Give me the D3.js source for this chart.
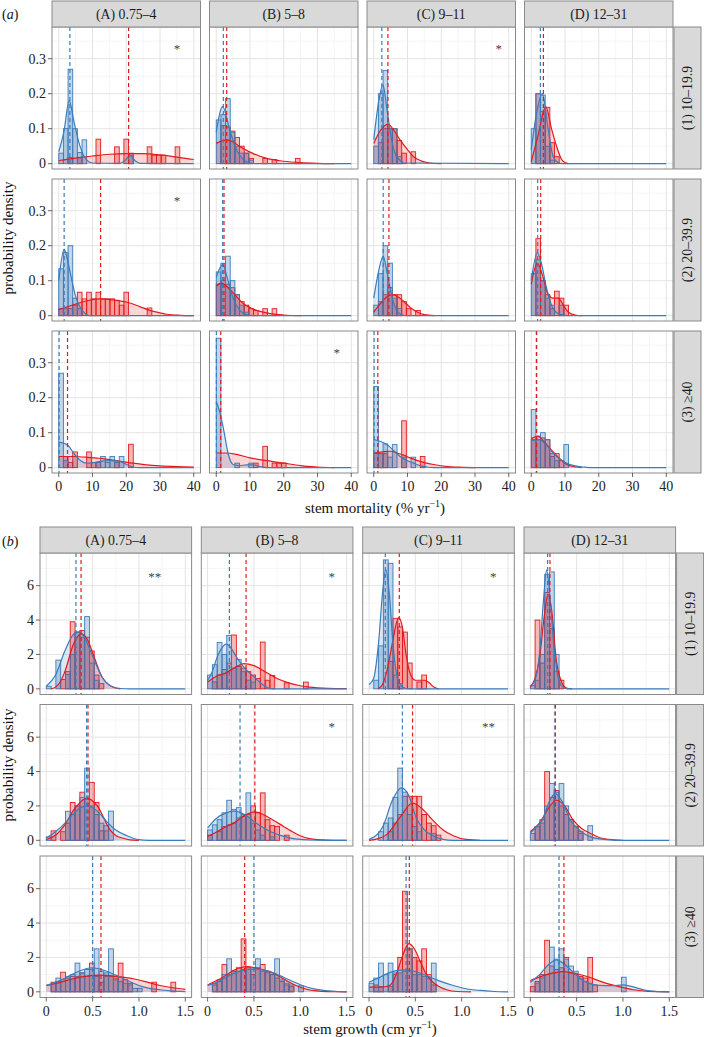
<!DOCTYPE html>
<html><head><meta charset="utf-8">
<script src="https://cdn.jsdelivr.net/npm/d3@7"></script>
<style>body{margin:0;background:#fff} text{font-family:"Liberation Serif","Times New Roman",serif}</style>
</head><body><svg id="c" width="704" height="1037"></svg>
<script>
// ---------------- DATA ----------------
const colLabels = ["(A) 0.75–4", "(B) 5–8", "(C) 9–11", "(D) 12–31"];
const rowLabels = ["(1) 10–19.9", "(2) 20–39.9", "(3) ≥40"];
const mortXTicks = [0, 10, 20, 30, 40];
const mortYTicks = [0, 0.1, 0.2, 0.3];
const growXTicks = [0, 0.5, 1.0, 1.5];
const growYTicks = [0, 2, 4, 6];
const mortBinWidth = 40 / 29;
const growBinWidth = 1.5 / 29;

// facets in row-major order: A1,B1,C1,D1, A2,B2,C2,D2, A3,B3,C3,D3 ; bins as [binIndex, density]
const mortHistBlue = [
  [[0,0.03],[1,0.1],[2,0.27],[3,0.1],[4,0.032],[5,0.068],[15,0.024]],
  [[0,0.125],[1,0.14],[2,0.186],[3,0.09],[4,0.05],[5,0.03],[6,0.03],[7,0.01]],
  [[0,0.05],[1,0.2],[2,0.266],[3,0.1],[4,0.1],[5,0.02]],
  [[0,0.1],[1,0.2],[2,0.196],[3,0.05],[4,0.01]],
  [[0,0.134],[1,0.18],[2,0.2],[3,0.05],[4,0.02]],
  [[0,0.125],[1,0.15],[2,0.17],[3,0.1],[4,0.06],[5,0.03],[6,0.01]],
  [[0,0.03],[1,0.12],[2,0.2],[3,0.15],[4,0.05],[5,0.02]],
  [[0,0.12],[1,0.16],[2,0.1],[3,0.05],[4,0.03],[6,0.03]],
  [[0,0.27],[1,0.02],[8,0.015],[9,0.032],[10,0.015],[11,0.032],[12,0.015],[13,0.032]],
  [[0,0.37],[4,0.013],[7,0.013]],
  [[0,0.232],[1,0.04],[2,0.068],[3,0.03],[4,0.066],[6,0.03],[8,0.03]],
  [[0,0.166],[1,0.09],[2,0.1],[3,0.08],[4,0.04],[5,0.02],[7,0.066]]
];
const mortHistRed = [
  [[2,0.018],[4,0.018],[8,0.07],[12,0.048],[14,0.07],[15,0.03],[19,0.048],[20,0.024],[21,0.024],[22,0.024],[25,0.048]],
  [[1,0.109],[2,0.105],[3,0.093],[4,0.075],[5,0.05],[6,0.03],[7,0.015],[10,0.015],[12,0.012],[17,0.015]],
  [[1,0.06],[2,0.1],[3,0.1],[4,0.1],[5,0.066],[6,0.03],[8,0.034]],
  [[1,0.2],[2,0.15],[3,0.161],[4,0.06],[5,0.02]],
  [[0,0.02],[1,0.02],[2,0.02],[3,0.03],[4,0.067],[5,0.048],[6,0.067],[7,0.048],[8,0.067],[9,0.048],[10,0.048],[11,0.048],[12,0.044],[13,0.03],[14,0.067],[19,0.022]],
  [[0,0.09],[1,0.1],[2,0.09],[3,0.08],[4,0.06],[5,0.04],[6,0.03],[7,0.02],[8,0.015],[10,0.02],[12,0.02]],
  [[1,0.04],[2,0.06],[3,0.08],[4,0.06],[5,0.06],[6,0.04],[7,0.02],[9,0.015]],
  [[1,0.22],[2,0.1],[3,0.06],[4,0.02],[5,0.07],[6,0.05],[7,0.03]],
  [[1,0.032],[2,0.015],[3,0.045],[6,0.045],[7,0.015],[8,0.015],[12,0.015],[15,0.067]],
  [[8,0.013],[10,0.061],[12,0.013],[13,0.013],[14,0.013]],
  [[0,0.04],[1,0.04],[2,0.04],[6,0.134],[10,0.032]],
  [[0,0.08],[1,0.08],[2,0.085],[3,0.08],[4,0.032],[5,0.04],[6,0.02]]
];
const mortDensBlue = [
  [[0,0.034],[1.5,0.09],[3.1,0.18],[4.5,0.12],[6.3,0.05],[8.3,0.01],[10,0.002],[18,0.001],[19.5,0.008],[21.1,0.024],[22.7,0.008],[24,0.001],[40,0]],
  [[0,0.09],[1.9,0.163],[4,0.096],[6,0.04],[8,0.012],[10,0.002],[12,0],[40,0]],
  [[0,0.068],[1.5,0.18],[2.7,0.225],[4,0.15],[5.3,0.068],[6.5,0.025],[7.8,0.01],[9,0.002],[40,0]],
  [[0,0.04],[1.5,0.14],[3.3,0.2],[5,0.1],[6.5,0.02],[8,0.003],[9,0],[40,0]],
  [[0,0.1],[1.6,0.19],[2.8,0.15],[3.9,0.1],[5,0.055],[6.3,0.025],[8,0.005],[9,0],[40,0]],
  [[0,0.11],[1.9,0.146],[3.5,0.1],[5,0.05],[7,0.015],[9,0.003],[11,0],[40,0]],
  [[0,0.05],[1.5,0.13],[2.8,0.17],[4,0.12],[5.5,0.05],[7,0.012],[8.5,0.002],[10,0],[40,0]],
  [[0,0.1],[1.8,0.18],[3,0.15],[4.5,0.08],[6,0.03],[8,0.006],[10,0.001],[12,0],[40,0]],
  [[0,0.073],[2.4,0.066],[4.8,0.037],[6.5,0.02],[8.3,0.013],[10,0.014],[12.2,0.018],[15,0.02],[18,0.018],[20,0.01],[22,0.002],[24,0],[40,0]],
  [[0,0.19],[1,0.16],[2.1,0.113],[3.6,0.037],[5,0.009],[7,0.006],[9,0.008],[11,0.008],[13,0.003],[15,0],[40,0]],
  [[0,0.08],[2,0.075],[3.9,0.066],[6,0.048],[7.8,0.032],[10,0.02],[11.8,0.013],[14,0.005],[15.7,0.002],[18,0],[40,0]],
  [[0,0.077],[2.5,0.08],[4.5,0.064],[6.5,0.042],[8.5,0.025],[10.4,0.013],[13,0.005],[15.4,0.002],[18,0],[40,0]]
];
const mortDensRed = [
  [[0,0.009],[5,0.016],[10,0.022],[15,0.027],[20,0.029],[25,0.029],[30,0.025],[35,0.019],[40,0.012]],
  [[0,0.058],[3,0.068],[5,0.062],[7,0.049],[10,0.033],[15,0.015],[20,0.007],[25,0.003],[30,0.001],[35,0]],
  [[0,0.058],[2,0.095],[4.2,0.113],[6,0.095],[7.8,0.068],[10,0.04],[11.8,0.02],[14,0.008],[16.7,0.002],[20,0]],
  [[0,0.006],[2,0.08],[4.3,0.163],[6,0.1],[7.5,0.05],[9,0.012],[10,0.003],[11,0]],
  [[0,0.017],[5.3,0.034],[9,0.044],[12.2,0.048],[16,0.045],[20,0.039],[24,0.026],[27,0.015],[30,0.008],[32,0.004],[36,0.001],[40,0]],
  [[0,0.085],[1.5,0.093],[3,0.085],[5,0.065],[8,0.035],[12,0.015],[16,0.006],[20,0.002],[25,0]],
  [[0,0.01],[2,0.035],[4,0.055],[5.5,0.06],[7,0.055],[9,0.04],[11,0.022],[13,0.01],[15,0.003],[18,0]],
  [[0,0.09],[1.8,0.15],[3.5,0.11],[5,0.06],[6.5,0.05],[8,0.05],[9.5,0.03],[11,0.01],[13,0.002],[15,0]],
  [[0,0.032],[4,0.032],[8,0.03],[12,0.027],[15,0.023],[18,0.019],[22,0.013],[26,0.008],[30,0.005],[35,0.003],[40,0.002]],
  [[0,0.042],[3,0.042],[6,0.038],[10,0.028],[15,0.02],[20,0.013],[25,0.006],[27,0.004],[30,0.002],[35,0]],
  [[0,0.042],[2.5,0.045],[4.9,0.047],[7,0.042],[9.8,0.032],[13,0.02],[17.7,0.009],[22,0.003],[26.6,0.001],[30,0]],
  [[0,0.083],[2,0.09],[4,0.072],[6.5,0.045],[8.5,0.025],[10.4,0.01],[12,0.004],[13.4,0.002],[15,0]]
];
const mortMeanBlue = [3.3, 2.1, 2.4, 2.7, 1.6, 1.9, 2.8, 1.9, 0.1, 0.05, 0.1, 1.5];
const mortMeanRed  = [20.7, 3.1, 4.2, 3.6, 12.4, 2.3, 4.5, 2.8, 2.6, 1.33, 1.2, 1.6];
const mortStars = [
  {facet: 0, label: "*", x: 35, y: 0.335},
  {facet: 2, label: "*", x: 37, y: 0.335},
  {facet: 4, label: "*", x: 35, y: 0.335},
  {facet: 9, label: "*", x: 35.7, y: 0.335}
];

const growHistBlue = [
  [[0,0.15],[2,1.67],[4,0.83],[5,2.0],[6,3.3],[7,3.0],[8,4.2],[9,1.5],[10,0.5]],
  [[0,0.8],[1,1.4],[2,2.7],[3,2.0],[4,3.1],[5,1.2],[6,1.7],[7,1.0],[8,0.5],[9,0.39]],
  [[1,0.5],[2,2.5],[3,7.5],[4,7.3],[5,0.8],[6,0.3]],
  [[0,0.2],[1,0.5],[2,2.0],[3,6.66],[4,6.8],[5,2.0]],
  [[0,0.2],[4,1.69],[5,1.5],[6,2.0],[7,2.5],[8,4.2],[9,2.0],[10,1.5],[11,1.0],[12,0.85],[13,1.7]],
  [[0,0.6],[1,0.9],[2,1.2],[3,1.6],[4,2.33],[5,1.8],[6,1.9],[7,1.5],[8,2.76],[9,1.0],[10,0.6],[11,0.3],[13,0.2]],
  [[2,0.5],[3,1.0],[4,1.3],[5,2.5],[6,4.2],[7,2.8],[8,1.5],[9,0.8],[10,0.5],[13,0.4]],
  [[0,0.4],[1,0.8],[2,1.0],[3,2.0],[4,3.3],[5,2.8],[6,3.3],[7,2.0],[8,1.2],[9,0.8],[10,0.4],[12,0.85]],
  [[1,0.5],[2,0.8],[3,0.7],[4,0.9],[5,1.0],[6,1.67],[7,1.1],[8,1.3],[9,1.3],[10,2.5],[11,1.2],[12,1.1],[13,2.5],[14,0.7],[15,0.6],[16,0.5],[17,0.4],[18,0.2],[19,0.2]],
  [[1,0.5],[2,0.7],[3,1.0],[4,1.92],[5,1.2],[6,1.2],[7,1.3],[8,1.3],[9,1.3],[10,1.92],[11,1.2],[12,1.1],[13,1.0],[14,1.92],[15,0.7],[16,0.5],[17,0.4],[19,0.35]],
  [[0,0.5],[1,0.8],[2,1.67],[3,1.0],[4,1.67],[5,1.1],[6,1.1],[7,1.2],[8,2.5],[9,1.0],[10,1.0],[11,0.9],[12,0.8],[13,1.67]],
  [[1,0.5],[2,0.8],[3,1.0],[4,2.6],[5,1.9],[6,2.5],[7,1.9],[8,1.5],[9,1.2],[10,0.8],[11,0.6],[12,0.5],[19,0.85]]
];
const growHistRed = [
  [[3,0.54],[4,1.0],[5,3.9],[6,3.3],[7,3.4],[8,3.0],[9,2.2],[10,0.8],[11,0.3]],
  [[1,0.4],[2,0.8],[3,1.12],[4,1.5],[5,3.13],[6,1.3],[7,1.2],[8,1.0],[9,0.8],[10,0.6],[11,2.72],[12,0.5],[13,0.78],[16,0.35],[20,0.39]],
  [[4,1.6],[5,4.1],[6,3.6],[7,3.3],[8,1.5],[10,0.4],[11,0.8]],
  [[1,4.0],[2,1.5],[3,5.6],[4,3.5],[5,1.03],[6,0.5]],
  [[1,0.55],[3,0.5],[4,1.0],[5,2.2],[6,2.0],[7,2.8],[8,2.4],[9,3.37],[10,2.2],[11,0.55],[12,0.55]],
  [[0,0.3],[2,0.5],[3,0.8],[4,0.9],[5,1.0],[6,1.3],[7,1.4],[8,1.5],[9,2.0],[10,1.6],[11,2.76],[12,1.2],[13,0.85],[14,0.81],[16,0.3]],
  [[4,0.5],[5,1.0],[6,1.5],[7,2.56],[8,2.56],[9,2.56],[10,2.56],[11,1.5],[12,1.0],[13,0.85],[14,0.3]],
  [[1,0.8],[2,1.2],[3,4.0],[4,2.5],[5,2.9],[6,2.0],[7,1.5],[8,1.2],[9,0.8],[10,0.5]],
  [[1,0.56],[2,0.6],[3,1.14],[4,0.8],[5,0.9],[6,0.9],[7,1.1],[8,0.9],[9,1.67],[10,0.9],[11,0.56],[12,0.9],[13,0.9],[14,0.8],[15,1.67],[16,0.7],[17,0.5],[22,0.56],[26,0.56]],
  [[1,0.4],[2,0.6],[3,1.59],[4,1.0],[5,1.2],[6,1.4],[7,3.08],[8,1.4],[9,1.0],[10,1.4],[11,1.59],[12,1.2],[13,1.0],[14,0.8],[15,0.6],[16,0.4],[17,0.3]],
  [[1,0.4],[2,0.3],[4,0.3],[5,1.0],[6,2.0],[7,5.85],[8,2.5],[9,2.0],[10,1.8],[11,2.5],[12,1.0],[13,0.4]],
  [[0,0.3],[1,0.6],[2,1.0],[3,3.0],[4,1.5],[5,1.3],[6,1.4],[7,2.0],[8,1.1],[9,1.0],[10,0.9],[11,0.8],[12,2.0],[13,0.4]]
];
const growDensBlue = [
  [[0,0.15],[0.1,0.8],[0.2,2.2],[0.3,3.2],[0.35,3.3],[0.4,3.1],[0.5,1.9],[0.6,0.7],[0.7,0.15],[0.8,0.02],[0.9,0],[1.5,0]],
  [[0,0.5],[0.05,1.0],[0.1,1.8],[0.15,2.35],[0.2,2.6],[0.25,2.4],[0.3,1.95],[0.4,1.2],[0.5,0.7],[0.6,0.22],[0.65,0.06],[0.7,0],[1.5,0]],
  [[0,0.25],[0.05,0.6],[0.1,2.5],[0.15,5.8],[0.18,6.95],[0.22,5.5],[0.26,2.5],[0.3,0.8],[0.35,0.15],[0.4,0.02],[0.45,0],[1.5,0]],
  [[0,0.15],[0.05,0.5],[0.1,2.1],[0.14,5.0],[0.176,6.9],[0.21,5.5],[0.25,2.8],[0.3,0.7],[0.35,0.1],[0.4,0],[1.5,0]],
  [[0,0.14],[0.1,0.5],[0.22,1.1],[0.3,1.6],[0.43,2.0],[0.55,1.7],[0.65,1.1],[0.75,0.6],[0.87,0.27],[1.0,0.04],[1.1,0],[1.5,0]],
  [[0,0.72],[0.1,1.3],[0.2,1.6],[0.28,1.7],[0.4,1.5],[0.5,1.1],[0.64,0.62],[0.75,0.35],[0.85,0.19],[1.0,0.05],[1.1,0.02],[1.3,0],[1.5,0]],
  [[0,0.04],[0.1,0.4],[0.15,0.8],[0.25,2.3],[0.35,3.05],[0.43,2.6],[0.51,1.3],[0.6,0.6],[0.69,0.27],[0.8,0.06],[0.9,0],[1.5,0]],
  [[0,0.43],[0.07,0.8],[0.14,1.3],[0.2,2.2],[0.27,2.72],[0.35,2.2],[0.43,1.2],[0.5,0.75],[0.57,0.43],[0.65,0.2],[0.75,0.08],[0.9,0.01],[1.0,0],[1.5,0]],
  [[0,0.37],[0.1,0.55],[0.22,0.85],[0.35,1.2],[0.5,1.4],[0.65,1.2],[0.8,0.85],[0.9,0.6],[1.0,0.37],[1.1,0.22],[1.23,0.12],[1.35,0.05],[1.5,0.01]],
  [[0,0.37],[0.1,0.55],[0.2,0.85],[0.35,1.2],[0.5,1.34],[0.65,1.2],[0.82,0.85],[0.92,0.6],[1.03,0.35],[1.15,0.17],[1.25,0.08],[1.4,0.02],[1.5,0]],
  [[0,0.56],[0.1,0.8],[0.19,1.05],[0.28,1.22],[0.37,1.28],[0.5,1.18],[0.62,0.95],[0.75,0.65],[0.91,0.37],[1.05,0.18],[1.2,0.08],[1.35,0.02],[1.5,0]],
  [[0,0.56],[0.1,1.0],[0.2,1.6],[0.28,1.86],[0.37,1.6],[0.47,1.1],[0.57,0.66],[0.66,0.45],[0.75,0.37],[0.88,0.36],[1.0,0.4],[1.1,0.3],[1.22,0.12],[1.35,0.03],[1.5,0]]
];
const growDensRed = [
  [[0.05,0],[0.1,0.1],[0.15,0.4],[0.2,1.0],[0.3,2.7],[0.38,3.2],[0.45,2.8],[0.5,2.1],[0.6,0.7],[0.7,0.15],[0.75,0.05],[0.8,0]],
  [[0,0.39],[0.1,0.75],[0.2,0.93],[0.3,1.25],[0.39,1.47],[0.5,1.35],[0.64,0.93],[0.75,0.6],[0.85,0.39],[1.0,0.18],[1.1,0.1],[1.3,0.03],[1.5,0.01]],
  [[0.1,0],[0.15,0.3],[0.2,1.2],[0.25,2.6],[0.3,3.9],[0.32,4.14],[0.36,3.6],[0.4,2.0],[0.45,0.8],[0.5,0.5],[0.55,0.5],[0.6,0.5],[0.65,0.35],[0.7,0.1],[0.75,0]],
  [[0,0.1],[0.05,0.6],[0.1,1.8],[0.15,4.2],[0.19,5.5],[0.23,4.6],[0.28,1.7],[0.33,0.5],[0.39,0.05],[0.45,0]],
  [[0,0.05],[0.1,0.3],[0.2,0.9],[0.3,1.8],[0.44,2.46],[0.55,2.0],[0.69,0.6],[0.75,0.28],[0.83,0.12],[0.9,0.03],[1.0,0]],
  [[0,0.23],[0.1,0.5],[0.2,0.8],[0.28,1.0],[0.4,1.45],[0.51,1.65],[0.6,1.5],[0.7,1.2],[0.82,0.81],[0.9,0.55],[1.0,0.27],[1.1,0.1],[1.18,0.04],[1.3,0.01],[1.5,0]],
  [[0,0],[0.1,0.1],[0.19,0.33],[0.33,1.3],[0.47,2.17],[0.6,1.7],[0.69,1.16],[0.8,0.6],[0.91,0.27],[1.05,0.05],[1.2,0]],
  [[0,0.52],[0.1,1.0],[0.2,1.9],[0.28,2.33],[0.37,2.0],[0.46,1.2],[0.55,0.7],[0.64,0.43],[0.75,0.15],[0.9,0.03],[1.0,0]],
  [[0,0.37],[0.15,0.55],[0.29,0.76],[0.45,0.93],[0.58,0.97],[0.75,0.9],[0.94,0.76],[1.1,0.55],[1.23,0.37],[1.35,0.25],[1.5,0.14]],
  [[0,0.4],[0.15,0.8],[0.3,1.3],[0.42,1.47],[0.55,1.35],[0.71,1.08],[0.85,0.65],[0.96,0.35],[1.07,0.15],[1.18,0.05],[1.3,0.01],[1.5,0]],
  [[0,0.27],[0.12,0.27],[0.23,0.4],[0.3,1.1],[0.35,1.9],[0.43,2.8],[0.5,2.4],[0.55,1.8],[0.62,1.0],[0.69,0.56],[0.76,0.3],[0.84,0.12],[0.95,0.02],[1.1,0]],
  [[0,0.66],[0.12,0.9],[0.25,1.1],[0.36,1.18],[0.5,1.05],[0.64,0.85],[0.75,0.62],[0.86,0.43],[1.0,0.25],[1.11,0.12],[1.25,0.04],[1.4,0.01],[1.5,0]]
];
const growMeanBlue = [0.32, 0.235, 0.176, 0.187, 0.435, 0.35, 0.36, 0.266, 0.5, 0.5, 0.4, 0.31];
const growMeanRed  = [0.375, 0.415, 0.327, 0.212, 0.45, 0.51, 0.47, 0.27, 0.59, 0.4, 0.435, 0.363];
const growStars = [
  {facet: 0, label: "**", x: 1.17, y: 6.65},
  {facet: 1, label: "*", x: 1.34, y: 6.65},
  {facet: 2, label: "*", x: 1.34, y: 6.65},
  {facet: 5, label: "*", x: 1.34, y: 6.75},
  {facet: 6, label: "**", x: 1.29, y: 6.75}
];

// ---------------- DRAWING ----------------
const BLUE = "#3B7CBA", RED = "#E31A1C";
const svg = d3.select("#c");

function drawFigure(cfg) {
  const g = svg.append("g");
  const nC = 4, nR = 3;
  for (let r = 0; r < nR; r++) {
    for (let c = 0; c < nC; c++) {
      const f = r * nC + c;
      const x0 = cfg.colLefts[c], y0 = cfg.rowTops[r];
      const W = cfg.colW, H = cfg.rowH;
      const x = d3.scaleLinear().domain(cfg.xDomain).range([x0, x0 + W]);
      const y = d3.scaleLinear().domain(cfg.yDomain).range([y0 + H, y0]);
      const p = g.append("g");
      const clipId = cfg.id + "clip" + f;
      p.append("clipPath").attr("id", clipId).append("rect")
        .attr("x", x0).attr("y", y0).attr("width", W).attr("height", H);
      p.append("rect").attr("x", x0).attr("y", y0).attr("width", W).attr("height", H).attr("fill", "#fff");
      const inner = p.append("g").attr("clip-path", `url(#${clipId})`);
      // grid
      inner.selectAll(".gxm").data(cfg.xMinor).join("line")
        .attr("x1", d => x(d)).attr("x2", d => x(d)).attr("y1", y0).attr("y2", y0 + H)
        .attr("stroke", "#F0F0F0").attr("stroke-width", 0.6);
      inner.selectAll(".gym").data(cfg.yMinor).join("line")
        .attr("y1", d => y(d)).attr("y2", d => y(d)).attr("x1", x0).attr("x2", x0 + W)
        .attr("stroke", "#F0F0F0").attr("stroke-width", 0.6);
      inner.selectAll(".gx").data(cfg.xTicks).join("line")
        .attr("x1", d => x(d)).attr("x2", d => x(d)).attr("y1", y0).attr("y2", y0 + H)
        .attr("stroke", "#E4E4E4").attr("stroke-width", 1);
      inner.selectAll(".gy").data(cfg.yTicks).join("line")
        .attr("y1", d => y(d)).attr("y2", d => y(d)).attr("x1", x0).attr("x2", x0 + W)
        .attr("stroke", "#E4E4E4").attr("stroke-width", 1);
      // histograms
      const series = [
        {hist: cfg.histRed[f], dens: cfg.densRed[f], col: RED},
        {hist: cfg.histBlue[f], dens: cfg.densBlue[f], col: BLUE}
      ];
      series.forEach(s => {
        inner.append("g").selectAll("rect").data(s.hist).join("rect")
          .attr("x", d => x(d[0] * cfg.binW))
          .attr("width", d => x((d[0] + 1) * cfg.binW) - x(d[0] * cfg.binW))
          .attr("y", d => y(d[1]))
          .attr("height", d => y(0) - y(d[1]))
          .attr("fill", s.col).attr("fill-opacity", 0.3)
          .attr("stroke", s.col).attr("stroke-width", 0.9);
      });
      series.forEach(s => {
        const area = d3.area().x(d => x(d[0])).y0(y(0)).y1(d => y(d[1])).curve(d3.curveMonotoneX);
        inner.append("path").datum(s.dens).attr("d", area)
          .attr("fill", s.col).attr("fill-opacity", 0.18);
      });
      series.forEach(s => {
        const line = d3.line().x(d => x(d[0])).y(d => y(d[1])).curve(d3.curveMonotoneX);
        inner.append("path").datum(s.dens).attr("d", line)
          .attr("fill", "none").attr("stroke", s.col).attr("stroke-width", 1.2);
      });
      // mean lines
      [[cfg.meanBlue[f], BLUE], [cfg.meanRed[f], RED]].forEach(([m, col]) => {
        inner.append("line").attr("x1", x(m)).attr("x2", x(m)).attr("y1", y0).attr("y2", y0 + H)
          .attr("stroke", col).attr("stroke-width", 1.2).attr("stroke-dasharray", "4,3");
      });
      // stars
      cfg.stars.filter(s => s.facet === f).forEach(s => {
        p.append("text").attr("x", x(s.x)).attr("y", y(s.y) + 7)
          .attr("text-anchor", "middle").attr("font-size", 13).attr("fill", "#444").text(s.label);
      });
      // border
      p.append("rect").attr("x", x0).attr("y", y0).attr("width", W).attr("height", H)
        .attr("fill", "none").attr("stroke", "#8A8A8A").attr("stroke-width", 1);
      // y axis (first column)
      if (c === 0) {
        cfg.yTicks.forEach(t => {
          p.append("line").attr("x1", x0 - 4).attr("x2", x0).attr("y1", y(t)).attr("y2", y(t))
            .attr("stroke", "#444").attr("stroke-width", 0.8);
          p.append("text").attr("x", x0 - 6).attr("y", y(t) + 4.8).attr("text-anchor", "end")
            .attr("font-size", 14).attr("fill", "#222").text(cfg.yFmt(t));
        });
      }
      // x axis (last row)
      if (r === nR - 1) {
        cfg.xTicks.forEach(t => {
          p.append("line").attr("x1", x(t)).attr("x2", x(t)).attr("y1", y0 + H).attr("y2", y0 + H + 4)
            .attr("stroke", "#444").attr("stroke-width", 0.8);
          p.append("text").attr("x", x(t)).attr("y", y0 + H + 18).attr("text-anchor", "middle")
            .attr("font-size", 14).attr("fill", "#222").text(cfg.xFmt(t));
        });
      }
    }
  }
  // top strips
  colLabels.forEach((lab, c) => {
    g.append("rect").attr("x", cfg.colLefts[c]).attr("y", cfg.stripTop).attr("width", cfg.colW)
      .attr("height", cfg.rowTops[0] - cfg.stripTop)
      .attr("fill", "#D9D9D9").attr("stroke", "#8A8A8A").attr("stroke-width", 1);
    g.append("text").attr("x", cfg.colLefts[c] + cfg.colW / 2)
      .attr("y", (cfg.stripTop + cfg.rowTops[0]) / 2 + 4.8)
      .attr("text-anchor", "middle").attr("font-size", 13.8).attr("fill", "#1a1a1a").text(lab);
  });
  // right strips
  const sx = cfg.colLefts[3] + cfg.colW + 1;
  rowLabels.forEach((lab, r) => {
    g.append("rect").attr("x", sx).attr("y", cfg.rowTops[r]).attr("width", 27).attr("height", cfg.rowH)
      .attr("fill", "#D9D9D9").attr("stroke", "#8A8A8A").attr("stroke-width", 1);
    const cx = sx + 13.5, cy = cfg.rowTops[r] + cfg.rowH / 2;
    g.append("text").attr("transform", `translate(${cx + 4.8},${cy}) rotate(-90)`)
      .attr("text-anchor", "middle").attr("font-size", 13.8).attr("fill", "#1a1a1a").text(lab);
  });
  // panel tag
  g.append("text").attr("x", 2).attr("y", cfg.tagY).attr("font-size", 14).attr("fill", "#111")
    .call(t => { t.append("tspan").text("("); t.append("tspan").attr("font-style", "italic").text(cfg.tag); t.append("tspan").text(")"); });
  // y title
  g.append("text").attr("transform", `translate(${cfg.yTitleX},${cfg.yTitleY}) rotate(-90)`)
    .attr("text-anchor", "middle").attr("font-size", 15).attr("fill", "#111").text("probability density");
  // x title
  const xt = g.append("text").attr("x", cfg.xTitleX).attr("y", cfg.xTitleY).attr("text-anchor", "middle")
    .attr("font-size", 15).attr("fill", "#111");
  xt.append("tspan").text(cfg.xTitle);
  xt.append("tspan").attr("font-size", 10).attr("dy", -6).text("−1");
  xt.append("tspan").attr("dy", 6).text(")");
}

drawFigure({
  id: "a", tag: "a", tagY: 19,
  colLefts: [52, 209.5, 367, 524.5], colW: 148.5,
  rowTops: [27, 179, 331], rowH: 142, stripTop: 1,
  xDomain: [-2, 42], yDomain: [-0.0152, 0.3906],
  xTicks: mortXTicks, xMinor: [5, 15, 25, 35], yTicks: mortYTicks, yMinor: [0.05, 0.15, 0.25, 0.35],
  binW: mortBinWidth,
  histBlue: mortHistBlue, histRed: mortHistRed, densBlue: mortDensBlue, densRed: mortDensRed,
  meanBlue: mortMeanBlue, meanRed: mortMeanRed, stars: mortStars,
  xFmt: d => String(d), yFmt: d => String(d),
  yTitleX: 13, yTitleY: 238, xTitleX: 375, xTitleY: 513, xTitle: "stem mortality (% yr"
});
drawFigure({
  id: "b", tag: "b", tagY: 546,
  colLefts: [40, 201.3, 362.7, 524], colW: 151.6,
  rowTops: [553, 704.5, 856], rowH: 141.5, stripTop: 527,
  xDomain: [-0.068, 1.568], yDomain: [-0.33, 7.9],
  xTicks: growXTicks, xMinor: [0.25, 0.75, 1.25], yTicks: growYTicks, yMinor: [1, 3, 5, 7],
  binW: growBinWidth,
  histBlue: growHistBlue, histRed: growHistRed, densBlue: growDensBlue, densRed: growDensRed,
  meanBlue: growMeanBlue, meanRed: growMeanRed, stars: growStars,
  xFmt: d => d === 0 ? "0" : d.toFixed(1), yFmt: d => String(d),
  yTitleX: 13, yTitleY: 765, xTitleX: 370, xTitleY: 1034, xTitle: "stem growth (cm yr"
});
</script></body></html>
